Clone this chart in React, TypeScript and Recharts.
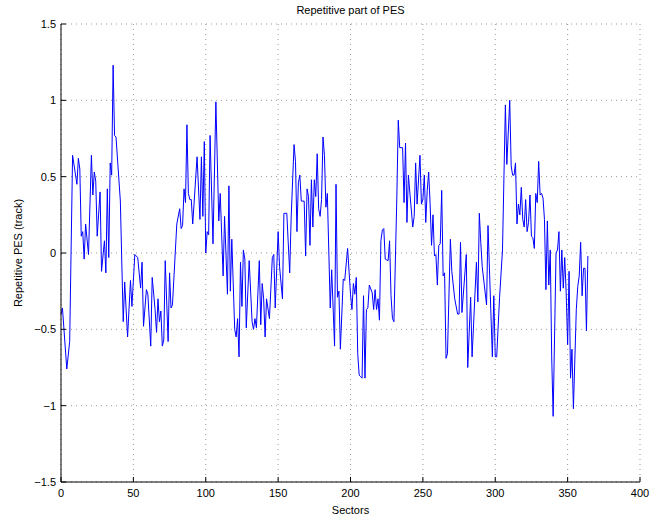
import React from 'react';
import { LineChart, Line, XAxis, YAxis, CartesianGrid } from 'recharts';

// Sector index and repetitive PES (track) value at that sector
const sectors = [
  0, 1, 4, 6, 8, 11, 12, 13, 14, 15, 16, 17, 19, 21, 22, 23, 24, 25, 27, 28, 30, 31, 32, 33, 34, 35, 36, 37, 38, 41, 42, 43, 44,
  46, 48, 49, 51, 53, 55, 56, 57, 59, 60, 62, 63, 65, 66, 67, 68, 69, 70, 71, 72, 74, 75, 76, 77, 80, 82, 83, 84, 85, 86, 87, 88, 89, 90, 91,
  94, 96, 97, 98, 99, 100, 101, 102, 103, 105, 107, 109, 110, 112, 113, 115, 116, 117, 118, 120, 121, 122, 123, 124, 125, 126, 127, 128, 130, 132, 133, 134, 135, 137,
  138, 139, 140, 141, 142, 144, 146, 147, 148, 150, 151, 153, 154, 156, 158, 159, 161, 162, 163, 164, 165, 166, 168, 169, 170, 171, 172, 173, 174, 175, 176, 177, 178, 179, 180, 181, 182,
  183, 184, 186, 187, 189, 190, 191, 192, 193, 195, 196, 198, 200, 201, 202, 203, 204, 205, 206, 207, 208, 209, 210, 211, 212, 213, 215, 216, 217, 218, 219, 220, 221, 222, 223, 224, 226, 227, 228,
  229, 230, 232, 233, 234, 236, 237, 238, 239, 240, 243, 244, 245, 246, 248, 249, 250, 251, 252, 253, 254, 255, 256, 257, 258, 259, 260, 261, 262, 263, 264, 265, 266, 267, 269, 270, 272,
  274, 275, 276, 277, 280, 281, 283, 284, 287, 288, 289, 290, 291, 294, 295, 298, 299, 300, 301, 303, 305, 307, 308, 310, 311, 312, 313, 314, 315, 316, 317, 318, 319, 320,
  321, 322, 323, 324, 325, 326, 327, 328, 329, 330, 331, 332, 333, 334, 335, 336, 337, 338, 339, 340, 342, 343, 344, 345, 346, 347, 348, 349, 350, 351, 352, 353, 354, 356, 357, 358, 359, 360, 361, 362, 363, 364,
];

const pesTrack = [
  -0.4, -0.36, -0.76, -0.58, 0.64, 0.45, 0.62, 0.55, 0.11, 0.14, -0.04, 0.19, -0.01, 0.64, 0.38, 0.53, 0.47, 0.11, 0.4, -0.12, 0.08, -0.13, 0.42, -0.03, 0.59, 0.51, 1.23, 0.77, 0.76, 0.34, -0.06, -0.45, -0.19,
  -0.55, -0.18, -0.35, -0.01, -0.03, -0.23, -0.06, -0.48, -0.24, -0.27, -0.61, -0.16, -0.37, -0.52, -0.3, -0.45, -0.38, -0.61, -0.57, -0.05, -0.58, -0.13, -0.36, -0.34, 0.19, 0.29, 0.16, 0.18, 0.42, 0.33, 0.84, 0.39, 0.35, 0.35, 0.19,
  0.63, 0.22, 0.63, 0.24, 0.73, 0.0, 0.14, 0.12, 0.77, 0.06, 0.99, 0.21, 0.39, -0.15, 0.24, -0.27, 0.44, -0.25, 0.09, -0.5, -0.55, -0.43, -0.68, -0.06, -0.35, 0.02, -0.04, -0.49, -0.05, -0.45, -0.5, -0.43, -0.49, -0.05,
  -0.47, -0.2, -0.3, -0.55, -0.3, -0.43, -0.03, -0.01, -0.36, 0.14, -0.09, -0.3, 0.26, 0.26, -0.13, 0.23, 0.71, 0.6, 0.14, 0.46, 0.51, 0.34, 0.34, -0.02, 0.42, 0.37, 0.05, 0.48, 0.17, 0.48, 0.37, 0.65, 0.29, 0.24, 0.35, 0.76, 0.64,
  0.3, 0.39, -0.36, -0.11, -0.61, 0.45, -0.29, -0.25, -0.63, -0.17, -0.18, 0.03, -0.27, -0.37, -0.2, -0.27, -0.16, -0.66, -0.8, -0.81, -0.82, -0.28, -0.82, -0.37, -0.36, -0.21, -0.26, -0.37, -0.24, -0.37, -0.3, -0.44, 0.08, 0.15, 0.16, -0.04, -0.05, 0.08, -0.28,
  -0.43, -0.45, 0.36, 0.87, 0.69, 0.69, 0.33, 0.72, 0.2, 0.51, 0.17, 0.24, 0.59, 0.32, 0.64, 0.32, 0.35, 0.51, 0.2, 0.41, 0.53, 0.32, 0.05, 0.25, -0.02, -0.01, -0.21, 0.05, 0.06, 0.41, -0.15, -0.13, -0.69, -0.66, 0.09, -0.12, -0.3,
  -0.4, -0.4, 0.07, -0.39, -0.01, -0.75, -0.29, -0.68, -0.06, -0.32, 0.26, 0.07, -0.09, -0.34, 0.18, -0.68, -0.28, -0.68, -0.68, -0.29, 0.02, 0.97, 0.58, 1.0, 0.57, 0.51, 0.51, 0.59, 0.19, 0.32, 0.25, 0.43, 0.22, 0.17,
  0.35, 0.14, 0.2, 0.38, 0.11, 0.1, 0.03, 0.39, 0.33, 0.6, 0.38, 0.39, 0.36, 0.22, -0.24, 0.21, -0.21, 0.02, -0.68, -1.07, 0.0, 0.02, 0.14, -0.25, 0.02, -0.23, -0.03, -0.26, -0.6, -0.12, -0.82, -0.63, -1.02, -0.37, -0.22, -0.15, 0.07, -0.28, -0.1, -0.1, -0.51, -0.02,
];

const xTicks = [0, 50, 100, 150, 200, 250, 300, 350, 400];
const yTicks = [-1.5, -1, -0.5, 0, 0.5, 1, 1.5];

const chartTitle = 'Repetitive part of PES';
const xLabel = 'Sectors';
const yLabel = 'Repetitive PES (track)';

const data = sectors.map((s, i) => ({ sector: s, pes: pesTrack[i] }));

const FONT = '"Liberation Sans", Arial, Helvetica, sans-serif';
const tickStyle = { fontSize: 11, fill: '#000', fontFamily: FONT };
const fmt = (v: number) => String(v).replace('-', '\u2212');
const blank = () => '';

const W = 651;
const H = 521;
const M = { top: 24, right: 11, bottom: 9, left: 0 };
const Y_AXIS_W = 61;
const X_AXIS_H = 30;

export default function App() {
  const plotLeft = M.left + Y_AXIS_W;
  const plotRight = W - M.right;
  const plotTop = M.top;
  const plotBottom = H - M.bottom - X_AXIS_H;
  const cx = (plotLeft + plotRight) / 2;
  const cy = (plotTop + plotBottom) / 2;

  return (
    <div style={{ position: 'absolute', left: 0, top: 0, width: W, height: H, background: '#fff' }}>
      <LineChart width={W} height={H} data={data} margin={M}>
        <CartesianGrid stroke="#999" strokeDasharray="1 4" />
        <XAxis
          dataKey="sector"
          type="number"
          domain={[0, 400]}
          ticks={xTicks}
          height={X_AXIS_H}
          stroke="#000"
          tickSize={-5}
          tickMargin={12}
          tick={tickStyle}
          interval={0}
        />
        <XAxis
          xAxisId="top"
          orientation="top"
          type="number"
          domain={[0, 400]}
          ticks={xTicks}
          height={0}
          stroke="#000"
          tickSize={-5}
          tickFormatter={blank}
          interval={0}
        />
        <YAxis
          type="number"
          domain={[-1.5, 1.5]}
          ticks={yTicks}
          width={Y_AXIS_W}
          stroke="#000"
          tickSize={-5}
          tickMargin={10}
          tick={tickStyle}
          tickFormatter={fmt}
          interval={0}
        />
        <YAxis
          yAxisId="right"
          orientation="right"
          type="number"
          domain={[-1.5, 1.5]}
          ticks={yTicks}
          width={0}
          stroke="#000"
          tickSize={-5}
          tickFormatter={blank}
          interval={0}
        />
        <Line
          dataKey="pes"
          type="linear"
          stroke="#0000ff"
          strokeWidth={1}
          dot={false}
          activeDot={false}
          isAnimationActive={false}
        />
      </LineChart>
      <svg
        width={W}
        height={H}
        style={{ position: 'absolute', left: 0, top: 0, pointerEvents: 'none' }}
      >
        <text x={cx} y={14} textAnchor="middle" fontSize={11} fontFamily={FONT} fill="#000">
          {chartTitle}
        </text>
        <text x={cx} y={514} textAnchor="middle" fontSize={11} fontFamily={FONT} fill="#000">
          {xLabel}
        </text>
        <text
          x={22}
          y={cy}
          textAnchor="middle"
          fontSize={11}
          fontFamily={FONT}
          fill="#000"
          transform={`rotate(-90 22 ${cy})`}
        >
          {yLabel}
        </text>
      </svg>
    </div>
  );
}
